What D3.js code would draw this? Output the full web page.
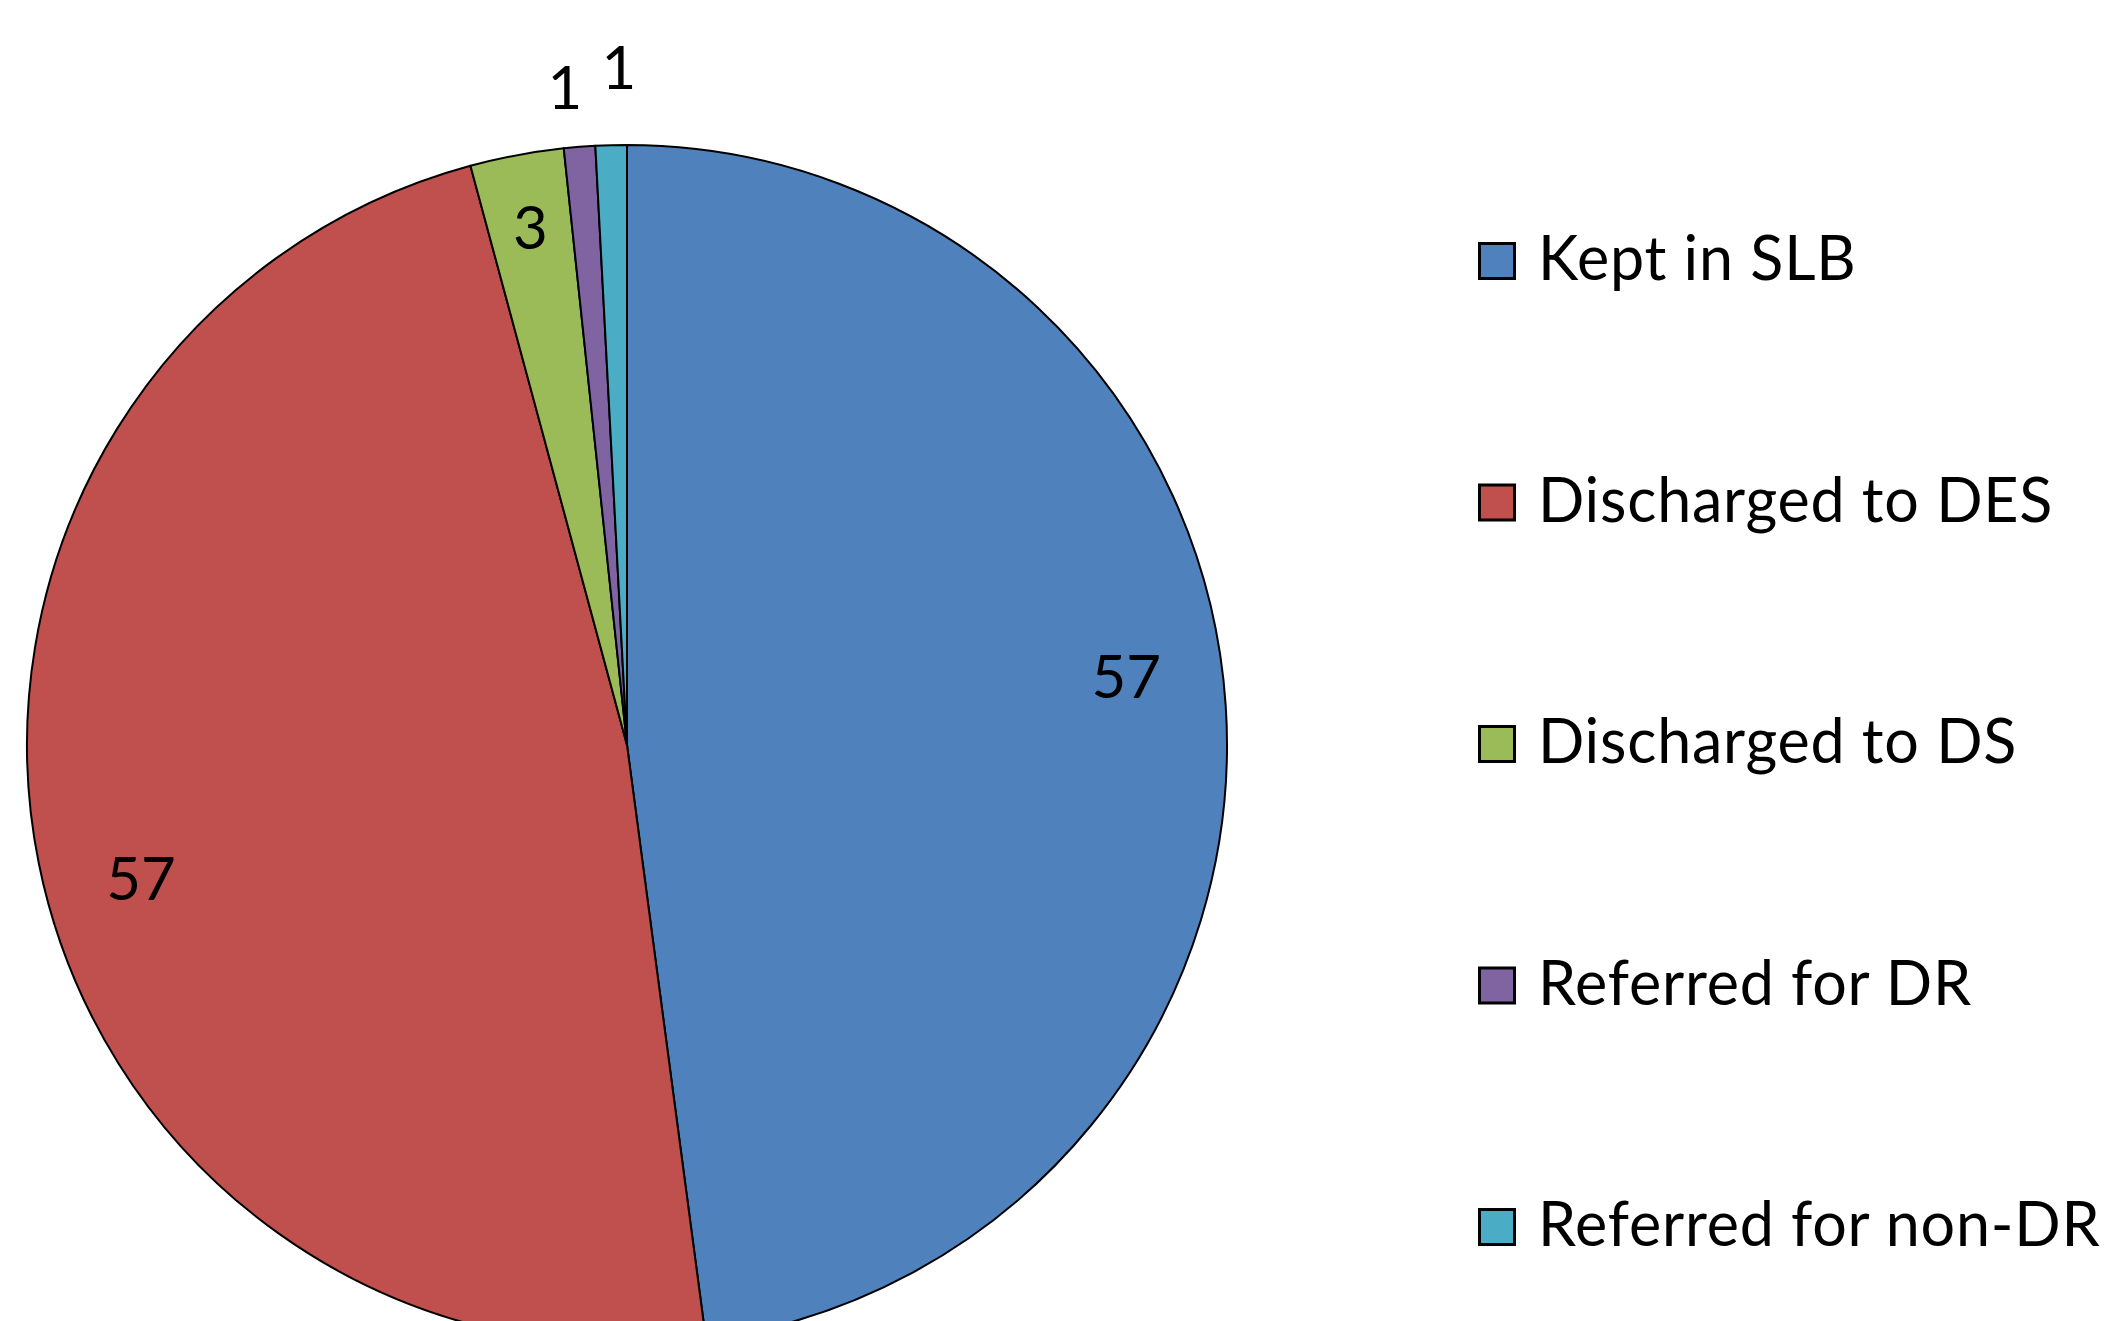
<!DOCTYPE html>
<html>
<head>
<meta charset="utf-8">
<script src="https://cdn.jsdelivr.net/npm/d3@7"></script>
<style>
  html, body { margin: 0; padding: 0; background: #fff; overflow: hidden; }
  svg { display: block; }
  text { font-family: Lato, "Open Sans", sans-serif; fill: #000; }
</style>
</head>
<body>
<svg id="chart" width="2111" height="1321"></svg>
<script>
// ---- data ----
const categories = ["Kept in SLB", "Discharged to DES", "Discharged to DS", "Referred for DR", "Referred for non-DR"];
const values = [57, 57, 3, 1, 1];
const colors = ["#4F81BD", "#C0504D", "#9BBB59", "#8064A2", "#4BACC6"];

// ---- layout ----
const W = 2111, H = 1321;
const cx = 627, cy = 745, R = 600;
const fontSize = 60;

const svg = d3.select("#chart");
const g = svg.append("g").attr("transform", `translate(${cx},${cy})`);

const pie = d3.pie().sort(null).value(d => d.value);
const arcs = pie(categories.map((c, i) => ({ name: c, value: values[i], color: colors[i] })));
const arc = d3.arc().innerRadius(0).outerRadius(R);

g.selectAll("path.slice")
  .data(arcs)
  .enter().append("path")
  .attr("class", "slice")
  .attr("d", arc)
  .attr("fill", d => d.data.color)
  .attr("stroke", "#000")
  .attr("stroke-width", 2)
  .attr("stroke-linejoin", "round");

// data labels: inside for large slices, outside (staggered, de-overlapped) for tiny ones
const insideAngleShift = -4 * Math.PI / 180;
const labels = [];
let outsideCount = 0;
arcs.forEach(d => {
  const mid = (d.startAngle + d.endAngle) / 2;
  let r, a, outside = false;
  if (d.value >= 2) {
    r = d.value >= 10 ? 0.84 * R : 0.877 * R;
    a = d.value >= 10 ? mid + insideAngleShift : mid;
  } else {
    r = (1.10 + 0.03 * outsideCount) * R;
    a = mid;
    outside = true;
    outsideCount++;
  }
  labels.push({ v: d.value, x: Math.sin(a) * r, y: -Math.cos(a) * r, outside });
});
// push overlapping outside labels apart horizontally
const outs = labels.filter(l => l.outside).sort((a, b) => a.x - b.x);
const minSep = 54;
for (let i = 1; i < outs.length; i++) {
  const gap = outs[i].x - outs[i - 1].x;
  if (gap < minSep) {
    const push = (minSep - gap) / 2;
    outs[i - 1].x -= push;
    outs[i].x += push;
  }
}
g.selectAll("text.dl")
  .data(labels)
  .enter().append("text")
  .attr("class", "dl")
  .attr("x", d => d.x)
  .attr("y", d => d.y)
  .attr("dy", "0.36em")
  .attr("text-anchor", "middle")
  .attr("font-size", fontSize)
  .text(d => d.v);

// ---- legend ----
const legendX = 1478, legendTop = 242, legendStep = 241.5, box = 38;
const lg = svg.append("g");
const item = lg.selectAll("g.item")
  .data(categories)
  .enter().append("g")
  .attr("class", "item")
  .attr("transform", (d, i) => `translate(${legendX},${legendTop + i * legendStep})`);
item.append("rect")
  .attr("x", 1.5).attr("y", 1.5)
  .attr("width", box - 3).attr("height", box - 3)
  .attr("fill", (d, i) => colors[i])
  .attr("stroke", "#000")
  .attr("stroke-width", 3);
item.append("text")
  .attr("x", 60)
  .attr("y", box)
  .attr("font-size", 61)
  .attr("letter-spacing", 0.8)
  .text(d => d);
</script>
</body>
</html>
